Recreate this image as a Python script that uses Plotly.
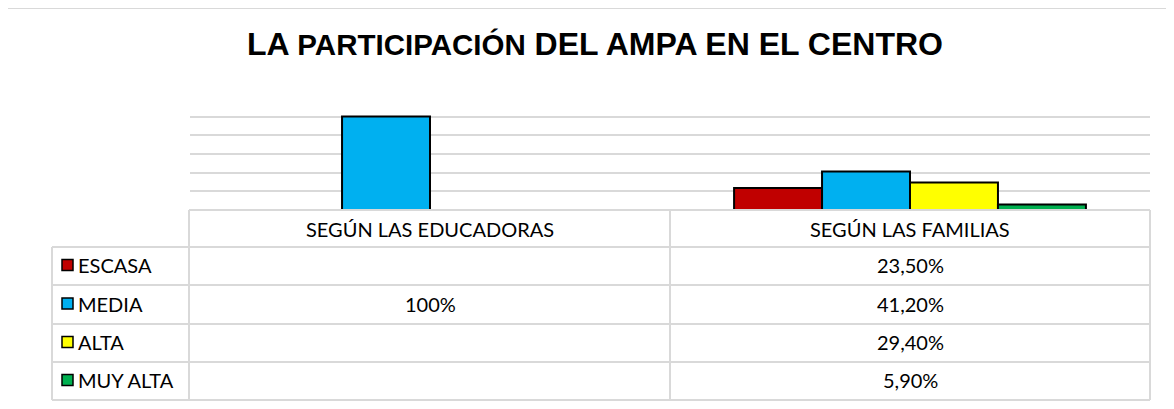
import plotly.graph_objects as go

# ---- data ----
categories = ["SEGÚN LAS EDUCADORAS", "SEGÚN LAS FAMILIAS"]
series_names = ["ESCASA", "MEDIA", "ALTA", "MUY ALTA"]
series_colors = ["#C00000", "#00B0F0", "#FFFF00", "#00B050"]
educadoras = [None, 1.00, None, None]
familias = [0.235, 0.412, 0.294, 0.059]
column_formats = ["{:.0%}", "{:.2%}"]
title_parts = ["LA ", "PARTICIPACIÓN", " DEL AMPA EN EL CENTRO"]

W, H = 1174, 409
OFF = 8  # page body margin
FW, FH = W - OFF, H - OFF


def px(x):
    return (x - OFF) / FW


def py(y):
    return 1 - (y - OFF) / FH


fig = go.Figure()
for i, name in enumerate(series_names):
    fig.add_trace(go.Bar(
        x=categories,
        y=[educadoras[i], familias[i]],
        name=name,
        marker=dict(color=series_colors[i], line=dict(color="black", width=2)),
        showlegend=False,
    ))

grid = "#D9D9D9"
shapes = []
annotations = []

# outer chart border
shapes.append(dict(type="rect", xref="paper", yref="paper",
                   x0=px(7), x1=px(1200), y0=py(430), y1=py(8),
                   line=dict(color=grid, width=2), fillcolor="rgba(0,0,0,0)", layer="below"))

# data table
x_left, x_lab, x_mid, x_right = 52, 189, 670, 1150
y_rows = [210, 247, 285, 324, 362, 400]
line = dict(color=grid, width=2)
shapes.append(dict(type="line", xref="paper", yref="paper", x0=px(x_lab), x1=px(x_right),
                   y0=py(y_rows[0]), y1=py(y_rows[0]), line=line))
for yy in y_rows[1:]:
    shapes.append(dict(type="line", xref="paper", yref="paper", x0=px(x_left), x1=px(x_right),
                       y0=py(yy), y1=py(yy), line=line))
shapes.append(dict(type="line", xref="paper", yref="paper", x0=px(x_left), x1=px(x_left),
                   y0=py(y_rows[1]), y1=py(y_rows[-1]), line=line))
for xx in (x_lab, x_mid, x_right):
    shapes.append(dict(type="line", xref="paper", yref="paper", x0=px(xx), x1=px(xx),
                       y0=py(y_rows[0]), y1=py(y_rows[-1]), line=line))

font = dict(family="Lato, Calibri, sans-serif", size=20, color="#000000")

for c in categories:
    annotations.append(dict(x=c, xref="x", y=py((y_rows[0] + y_rows[1]) / 2), yref="paper",
                            text=c, showarrow=False, font=font, xanchor="center", yanchor="middle"))

cols = [educadoras, familias]
for i, name in enumerate(series_names):
    yc = (y_rows[i + 1] + y_rows[i + 2]) / 2 - 1
    shapes.append(dict(type="rect", xref="paper", yref="paper",
                       x0=px(62), x1=px(73), y0=py(yc + 5.5), y1=py(yc - 5.5),
                       fillcolor=series_colors[i], line=dict(color="black", width=1.5)))
    annotations.append(dict(x=px(76), xref="paper", y=py(yc), yref="paper", text=name,
                            showarrow=False, font=font, xanchor="left", yanchor="middle"))
    for j, c in enumerate(categories):
        v = cols[j][i]
        if v is None:
            continue
        txt = column_formats[j].format(v).replace(".", ",")
        annotations.append(dict(x=c, xref="x", y=py(yc), yref="paper", text=txt,
                                showarrow=False, font=font, xanchor="center", yanchor="middle"))

title_txt = (title_parts[0] + "<span style='font-size:29.5px'>" + title_parts[1] + "</span>"
             + title_parts[2])
annotations.append(dict(x=px(595), xref="paper", y=py(44), yref="paper", text=title_txt,
                        showarrow=False, xanchor="center", yanchor="middle",
                        font=dict(family="Liberation Sans, Arial, sans-serif", size=32,
                                  color="#000000", weight="bold")))

fig.update_layout(
    width=FW, height=FH,
    margin=dict(l=0, r=0, t=0, b=0),
    paper_bgcolor="white", plot_bgcolor="white",
    barmode="group", bargap=0.267, bargroupgap=0,
    xaxis=dict(domain=[px(190), px(1150)], showticklabels=False, showgrid=False,
               zeroline=False, showline=False, ticks=""),
    yaxis=dict(domain=[py(210), py(97)], range=[0, 1.21], dtick=0.2, showticklabels=False,
               showgrid=True, gridcolor=grid, gridwidth=2, zeroline=False, showline=False),
    shapes=shapes,
    annotations=annotations,
)

fig.write_html("out.html")
